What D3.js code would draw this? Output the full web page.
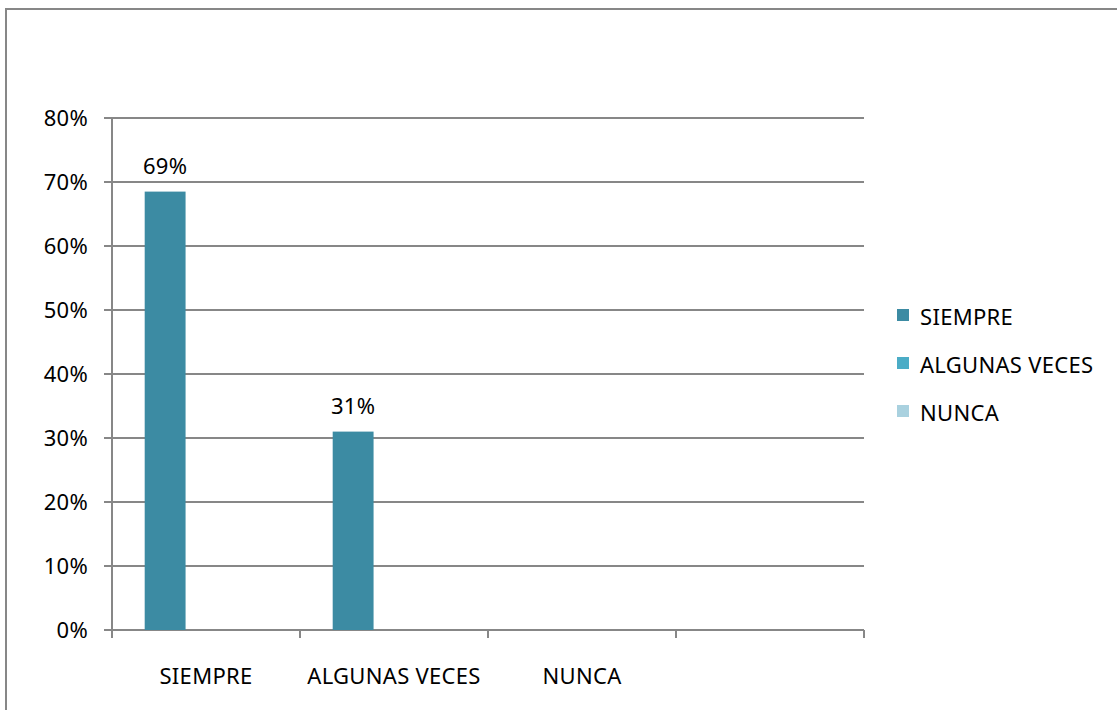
<!DOCTYPE html>
<html>
<head>
<meta charset="utf-8">
<script src="https://cdn.jsdelivr.net/npm/d3@7"></script>
<style>
  body { margin: 0; background: #fff; }
  text { font-family: "Noto Sans", sans-serif; fill: #000; letter-spacing: 0.3px; }
</style>
</head>
<body>
<div id="chart"></div>
<script>
// categories on the x axis (the fourth slot is empty in the original)
const categories = ['SIEMPRE', 'ALGUNAS VECES', 'NUNCA', ''];
// series, one colour each
const seriesNames = ['SIEMPRE', 'ALGUNAS VECES', 'NUNCA'];
const siempreValues = [0.685, 0.31, 0, 0];
const algunasValues = [0, 0, 0, 0];
const nuncaValues = [0, 0, 0, 0];
const yTicks = [0, 0.1, 0.2, 0.3, 0.4, 0.5, 0.6, 0.7, 0.8];

const colors = ['#3C8BA3', '#4BACC6', '#A9D1DF'];
const allValues = [siempreValues, algunasValues, nuncaValues];

const width = 1117, height = 710;
const fontSize = 22;

const svg = d3.select('#chart')
    .append('svg')
    .attr('width', width)
    .attr('height', height);

// outer frame (cut off at right and bottom like the original)
svg.append('rect')
    .attr('x', 6).attr('y', 9)
    .attr('width', width + 20).attr('height', height + 20)
    .attr('fill', 'none')
    .attr('stroke', '#878787')
    .attr('stroke-width', 2);

const x = d3.scaleBand().domain(categories).range([112, 864]);
const xs = d3.scaleBand().domain(seriesNames).range([0, x.bandwidth()])
    .paddingInner(0).paddingOuter(0.8);
const y = d3.scaleLinear().domain([0, 0.8]).range([630, 118]);

// gridlines
svg.append('g')
    .selectAll('line')
    .data(yTicks)
    .join('line')
    .attr('x1', 104).attr('x2', 864)
    .attr('y1', d => y(d)).attr('y2', d => y(d))
    .attr('stroke', '#878787')
    .attr('stroke-width', 2);

// y axis line
svg.append('line')
    .attr('x1', 112).attr('x2', 112)
    .attr('y1', y(0.8)).attr('y2', y(0) + 8)
    .attr('stroke', '#878787').attr('stroke-width', 2);

// y tick labels
svg.append('g')
    .selectAll('text')
    .data(yTicks)
    .join('text')
    .attr('x', 88)
    .attr('y', d => y(d))
    .attr('dy', '0.36em')
    .attr('text-anchor', 'end')
    .attr('font-size', fontSize)
    .text(d => d3.format('.0%')(d));

// x tick marks at band edges
const edges = categories.map(c => x(c)).concat([x.range()[1]]);
svg.append('g')
    .selectAll('line')
    .data(edges)
    .join('line')
    .attr('x1', d => d).attr('x2', d => d)
    .attr('y1', y(0)).attr('y2', y(0) + 8)
    .attr('stroke', '#878787').attr('stroke-width', 2);

// category labels
svg.append('g')
    .selectAll('text')
    .data(categories)
    .join('text')
    .attr('x', d => x(d) + x.bandwidth() / 2)
    .attr('y', 684)
    .attr('text-anchor', 'middle')
    .attr('font-size', fontSize)
    .text(d => d);

// bars
seriesNames.forEach((s, si) => {
    const vals = allValues[si];
    const g = svg.append('g');
    const data = categories.map((c, i) => ({ c, v: vals[i] })).filter(d => d.v > 0);
    g.selectAll('rect')
        .data(data)
        .join('rect')
        .attr('x', d => x(d.c) + xs(s))
        .attr('y', d => y(d.v))
        .attr('width', xs.bandwidth())
        .attr('height', d => y(0) - y(d.v))
        .attr('fill', colors[si]);
    g.selectAll('text')
        .data(data)
        .join('text')
        .attr('x', d => x(d.c) + xs(s) + xs.bandwidth() / 2)
        .attr('y', d => y(d.v) - 18)
        .attr('text-anchor', 'middle')
        .attr('font-size', fontSize)
        .text(d => d3.format('.0%')(d.v));
});

// legend
const legend = svg.append('g')
    .selectAll('g')
    .data(seriesNames)
    .join('g')
    .attr('transform', (d, i) => `translate(897, ${309 + i * 48})`);
legend.append('rect')
    .attr('width', 12).attr('height', 12)
    .attr('fill', (d, i) => colors[i]);
legend.append('text')
    .attr('x', 23).attr('y', 16)
    .attr('font-size', fontSize)
    .text(d => d);
</script>
</body>
</html>
